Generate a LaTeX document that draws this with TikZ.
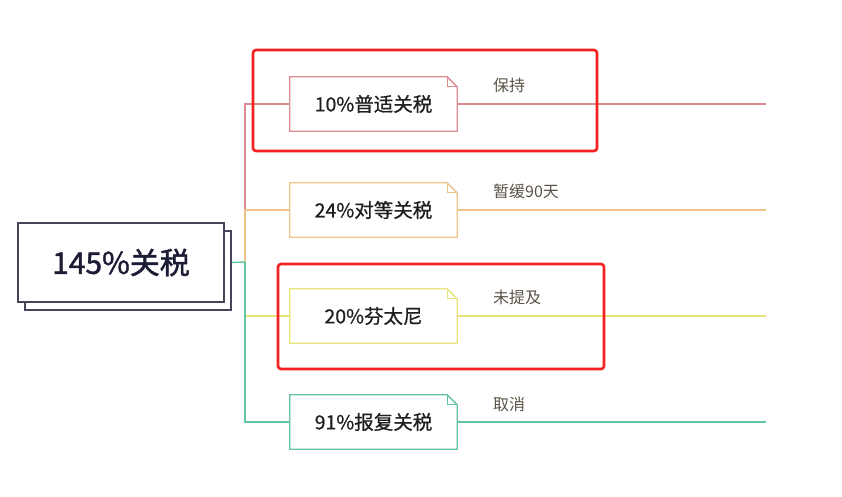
\documentclass[tikz,border=0pt]{standalone}
\usepackage{fontspec}
\setmainfont{Noto Sans CJK SC}
\newfontfamily\heavyfont[FakeBold=1.4]{Noto Sans CJK SC}
\newfontfamily\midfont[FakeBold=0.8]{Noto Sans CJK SC}
\usetikzlibrary{shadows, positioning, calc}
\definecolor{rootline}{HTML}{45455A}
\definecolor{roottext}{HTML}{1C1C35}
\definecolor{redbr}{HTML}{DC8C90}
\definecolor{orangebr}{HTML}{EFC48A}
\definecolor{yellowbr}{HTML}{E8E47C}
\definecolor{greenbr}{HTML}{62C4A4}
\definecolor{markred}{HTML}{F52020}
\definecolor{leaftext}{HTML}{5A5246}
\tikzset{
    root/.style={rectangle, draw=rootline, line width=1.8pt, fill=white, minimum width=206pt, minimum height=79pt, inner sep=0pt, font=\heavyfont\fontsize{30}{30}\selectfont, text=roottext,
        copy shadow={shadow xshift=7pt, shadow yshift=-8pt, draw=rootline, fill=white, line width=1.8pt}},
    topic/.style={rectangle, minimum width=167pt, minimum height=54pt, inner sep=0pt, font=\midfont\fontsize{19.5}{19.5}\selectfont, text=black!88},
    leaf/.style={anchor=west, inner sep=0pt, font=\fontsize{16}{16}\selectfont, text=leaftext},
    branch/.style={line width=1.4pt, draw=#1},
    markbox/.style={draw=markred, line width=2.6pt, rounded corners=3pt}
}
% box with folded corner
\newcommand{\dogear}[2]{%
    \draw[line width=1.3pt, draw=#2] (#1.south west) -- (#1.north west) -- ([xshift=-10pt]#1.north east) -- ([yshift=-10pt]#1.north east) -- (#1.south east) -- cycle;
    \draw[line width=1pt, draw=#2] ([xshift=-10pt]#1.north east) |- ([yshift=-10pt]#1.north east);
}

\begin{document}
\begin{tikzpicture}[x=1pt, y=-1pt]
    \useasboundingbox (0,0) rectangle (842,496);

    \node[root] (tariff) at (121,262.5) {145\%关税};
    \coordinate (hub) at (245,262);

    % branch boxes
    \node[topic] (b1) at (373.5,104) {10\%普适关税};
    \node[topic] (b2) at (373.5,210) {24\%对等关税};
    \node[topic] (b3) at (373.5,316) {20\%芬太尼};
    \node[topic] (b4) at (373.5,422) {91\%报复关税};

    \coordinate (e1) at (766,104);
    \coordinate (e2) at (766,210);
    \coordinate (e3) at (766,316);
    \coordinate (e4) at (766,422);

    \draw[branch=redbr] (hub) |- (b1.west);
    \draw[branch=orangebr] (hub) |- (b2.west);
    \draw[branch=yellowbr] (hub) |- (b3.west);
    \draw[branch=greenbr] (hub) |- (b4.west);
    \draw[branch=greenbr] ([xshift=7pt]tariff.east) -- (hub);

    \draw[branch=redbr] (b1.east) -- (e1);
    \draw[branch=orangebr] (b2.east) -- (e2);
    \draw[branch=yellowbr] (b3.east) -- (e3);
    \draw[branch=greenbr] (b4.east) -- (e4);

    \dogear{b1}{redbr}
    \dogear{b2}{orangebr}
    \dogear{b3}{yellowbr}
    \dogear{b4}{greenbr}

    \node[leaf] (l1) at (493,85) {保持};
    \node[leaf] (l2) at (493,191) {暂缓90天};
    \node[leaf] (l3) at (493,297) {未提及};
    \node[leaf] (l4) at (493,404) {取消};

    % highlights
    \draw[markbox] (253,50) rectangle (597,151);
    \draw[markbox] (278,264) rectangle (604,369);
\end{tikzpicture}
\end{document}
